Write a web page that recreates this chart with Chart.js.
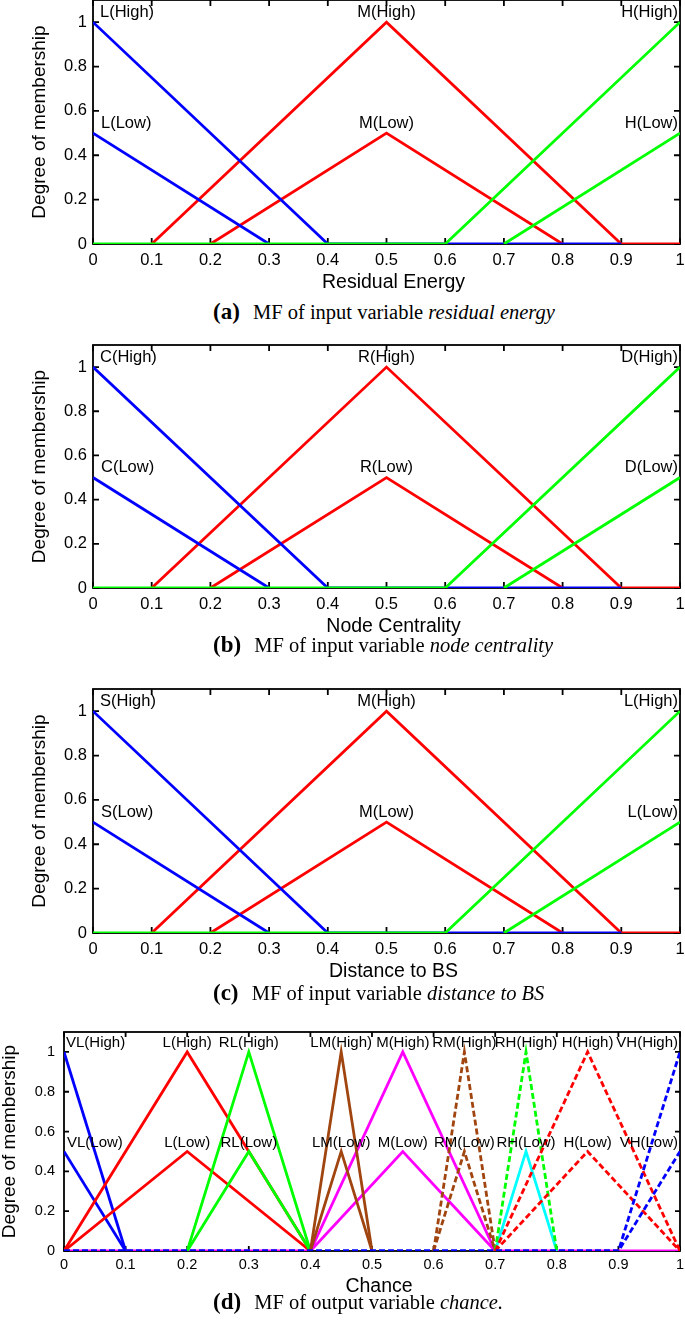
<!DOCTYPE html>
<html>
<head>
<meta charset="utf-8">
<script src="https://cdn.jsdelivr.net/npm/chart.js@4.4.1/dist/chart.umd.min.js"></script>
<style>
  body { margin: 0; background: #fff; width: 685px; height: 1324px; position: relative; overflow: hidden; }
  canvas { position: absolute; left: 0; }
  .cap { position: absolute; left: 213px; font-family: "Liberation Serif", "Times New Roman", serif; font-size: 20.5px; line-height: 24px; white-space: nowrap; color: #000; }
  .cap b { font-size: 23px; margin-right: 8px; }
</style>
</head>
<body>
<canvas id="mfA" width="685" height="308" style="top:-12px"></canvas>
<div class="cap" style="top:300px"><b>(a)</b> MF of input variable <i>residual energy</i></div>
<canvas id="mfB" width="685" height="307" style="top:333px"></canvas>
<div class="cap" style="top:633px"><b>(b)</b> MF of input variable <i>node centrality</i></div>
<canvas id="mfC" width="685" height="308" style="top:677px"></canvas>
<div class="cap" style="top:981px"><b>(c)</b> MF of input variable <i>distance to BS</i></div>
<canvas id="mfD" width="685" height="280" style="top:1020px"></canvas>
<div class="cap" style="top:1290px"><b>(d)</b> MF of output variable <i>chance.</i></div>

<script>
var xTicks = [0, 0.1, 0.2, 0.3, 0.4, 0.5, 0.6, 0.7, 0.8, 0.9, 1];
var yTicks = [0, 0.2, 0.4, 0.6, 0.8, 1];

// input variables (a)-(c) share the same membership shapes
var leftX = [0, 0.4, 0.9],       leftHigh = [1, 0, 0];
var leftLowX = [0, 0.3],         leftLow = [0.5, 0];
var midX = [0.1, 0.5, 0.9, 1],   midHigh = [0, 1, 0, 0];
var midLowX = [0.2, 0.5, 0.8],   midLow = [0, 0.5, 0];
var rightX = [0, 0.6, 1],        rightHigh = [0, 0, 1];
var rightLowX = [0.7, 1],        rightLow = [0, 0.5];

var energyNames = ["L", "M", "H"];
var centralityNames = ["C", "R", "D"];
var distanceNames = ["S", "M", "L"];
var inputTagX = [0, 0.5, 1];

// output variable (d) chance
var chanceNames = ["VL", "L", "RL", "LM", "M", "RM", "RH", "H", "VH"];
var chanceTagX = [0, 0.2, 0.3, 0.45, 0.55, 0.65, 0.75, 0.85, 1];
var vlX = [0, 0.1],                   vlHigh = [1, 0],           vlLow = [0.5, 0];
var lX = [0, 0.2, 0.4],               lHigh = [0, 1, 0],         lLow = [0, 0.5, 0];
var rlX = [0.2, 0.3, 0.4],            rlHigh = [0, 1, 0],        rlLow = [0, 0.5, 0];
var lmX = [0.4, 0.45, 0.5],           lmHigh = [0, 1, 0],        lmLow = [0, 0.5, 0];
var mX = [0, 0.4, 0.55, 0.7, 1],      mHigh = [0, 0, 1, 0, 0];
var mLowX = [0.4, 0.55, 0.7],         mLow = [0, 0.5, 0];
var rmX = [0.6, 0.65, 0.7],           rmHigh = [0, 1, 0],        rmLow = [0, 0.5, 0];
var rhX = [0.7, 0.75, 0.8],           rhHigh = [0, 1, 0],        rhLow = [0, 0.5, 0];
var hX = [0.7, 0.85, 1],              hHigh = [0, 1, 0],         hLow = [0, 0.5, 0];
var vhX = [0, 0.9, 1],                vhHigh = [0, 0, 1],        vhLow = [0, 0, 0.5];

var HIGH_ROW = 1.045, LOW_ROW = 0.545;
var SANS = "'Liberation Sans', Arial, Helvetica, sans-serif";
var BROWN = "#a0450f";

function line(xs, ys, color, dashed) {
  return {
    data: xs.map(function (x, i) { return { x: x, y: ys[i] }; }),
    borderColor: color,
    borderWidth: 2.8,
    borderDash: dashed ? [6, 3] : [],
    showLine: true,
    pointRadius: 0,
    tension: 0
  };
}

var mfDeco = {
  id: "mfDeco",
  beforeDatasetsDraw: function (chart, args, o) {
    var ctx = chart.ctx, a = chart.chartArea, sx = chart.scales.x, sy = chart.scales.y;
    ctx.save();
    ctx.strokeStyle = "#000";
    ctx.lineWidth = 1.8;
    ctx.strokeRect(a.left, a.top, a.right - a.left, a.bottom - a.top);
    ctx.beginPath();
    xTicks.forEach(function (v) {
      var p = sx.getPixelForValue(v);
      ctx.moveTo(p, a.bottom); ctx.lineTo(p, a.bottom - o.tick);
      ctx.moveTo(p, a.top); ctx.lineTo(p, a.top + o.tick);
    });
    yTicks.forEach(function (v) {
      var p = sy.getPixelForValue(v);
      ctx.moveTo(a.left, p); ctx.lineTo(a.left + o.tick, p);
      ctx.moveTo(a.right, p); ctx.lineTo(a.right - o.tick, p);
    });
    ctx.stroke();
    ctx.restore();
  },
  afterDatasetsDraw: function (chart, args, o) {
    var ctx = chart.ctx, a = chart.chartArea, sx = chart.scales.x, sy = chart.scales.y;
    ctx.save();
    ctx.fillStyle = "#000";
    ctx.textBaseline = "middle";
    ctx.font = o.tagSize + "px " + SANS;
    var last = o.tagX.length - 1;
    o.names.forEach(function (n, i) {
      var x = sx.getPixelForValue(o.tagX[i]);
      ctx.textAlign = i === 0 ? "left" : (i === last ? "right" : "center");
      if (i === 0) x += o.nudge; else if (i === last) x -= 2;
      ctx.fillText(n + "(High)", x, sy.getPixelForValue(HIGH_ROW));
      ctx.fillText(n + "(Low)", x + (i === 0 ? 1 : 0), sy.getPixelForValue(LOW_ROW));
    });
    ctx.textAlign = "center";
    ctx.font = "19.5px " + SANS;
    ctx.fillText(o.xTitle, (a.left + a.right) / 2 + 7, a.bottom + o.titleGap);
    ctx.restore();
  }
};

function makeChart(id, datasets, deco, dims) {
  new Chart(document.getElementById(id), {
    type: "scatter",
    data: { datasets: datasets },
    plugins: [mfDeco],
    options: {
      responsive: false,
      animation: false,
      devicePixelRatio: 1,
      layout: { padding: { top: 12, right: 5, left: 0, bottom: 0 } },
      plugins: { legend: { display: false }, tooltip: { enabled: false }, mfDeco: deco },
      scales: {
        x: {
          type: "linear", min: 0, max: 1,
          grid: { display: false, drawTicks: false },
          border: { display: false },
          afterBuildTicks: function (s) { s.ticks = xTicks.map(function (v) { return { value: v }; }); },
          afterFit: function (s) { s.height = dims.xH; s.paddingLeft = 0; s.paddingRight = 0; },
          ticks: { color: "#000", font: { family: SANS, size: dims.tickSize }, padding: dims.xPad, maxRotation: 0, autoSkip: false,
                   callback: function (v) { return String(v); } }
        },
        y: {
          type: "linear", min: 0, max: 1.1,
          grid: { display: false, drawTicks: false },
          border: { display: false },
          afterBuildTicks: function (s) { s.ticks = yTicks.map(function (v) { return { value: v }; }); },
          afterFit: function (s) { s.width = dims.yW; s.paddingTop = 0; s.paddingBottom = 0; },
          ticks: { color: "#000", font: { family: SANS, size: dims.tickSize }, padding: dims.yPad, autoSkip: false,
                   callback: function (v) { return String(v); } },
          title: { display: true, text: "Degree of membership", color: "#000",
                   font: { family: SANS, size: 19, lineHeight: 1 }, padding: { top: dims.yTitlePad, bottom: 0 } }
        }
      }
    }
  });
}

function inputSets() {
  return [
    line(rightX, rightHigh, "#00ff00"),
    line(rightLowX, rightLow, "#00ff00"),
    line(leftX, leftHigh, "#0000ff"),
    line(leftLowX, leftLow, "#0000ff"),
    line(midX, midHigh, "#ff0000"),
    line(midLowX, midLow, "#ff0000")
  ];
}

var inputDims = { xH: 52, yW: 93, tickSize: 16.5, xPad: 7, yPad: 6, yTitlePad: 30.5 };
makeChart("mfA", inputSets(), { names: energyNames, tagX: inputTagX, tagSize: 16.5, nudge: 7, tick: 6, xTitle: "Residual Energy", titleGap: 39 }, inputDims);
makeChart("mfB", inputSets(), { names: centralityNames, tagX: inputTagX, tagSize: 16.5, nudge: 7, tick: 6, xTitle: "Node Centrality", titleGap: 39 }, inputDims);
makeChart("mfC", inputSets(), { names: distanceNames, tagX: inputTagX, tagSize: 16.5, nudge: 7, tick: 6, xTitle: "Distance to BS", titleGap: 39 }, inputDims);

makeChart("mfD", [
  line(vhX, vhHigh, "#0000ff", true),
  line(vhX, vhLow, "#0000ff", true),
  line(hX, hHigh, "#ff0000", true),
  line(hX, hLow, "#ff0000", true),
  line(rhX, rhHigh, "#00ff00", true),
  line(rhX, rhLow, "#00ffff"),
  line(rmX, rmHigh, BROWN, true),
  line(rmX, rmLow, BROWN, true),
  line(lmX, lmHigh, BROWN),
  line(lmX, lmLow, BROWN),
  line(rlX, rlHigh, "#00ff00"),
  line(rlX, rlLow, "#00ff00"),
  line(lX, lHigh, "#ff0000"),
  line(lX, lLow, "#ff0000"),
  line(vlX, vlHigh, "#0000ff"),
  line(vlX, vlLow, "#0000ff"),
  line(mLowX, mLow, "#ff00ff"),
  line(mX, mHigh, "#ff00ff")
], { names: chanceNames, tagX: chanceTagX, tagSize: 15, nudge: 2, tick: 5, xTitle: "Chance", titleGap: 36 },
   { xH: 49, yW: 64, tickSize: 14.5, xPad: 5, yPad: 9, yTitlePad: 0.5 });
</script>
</body>
</html>
